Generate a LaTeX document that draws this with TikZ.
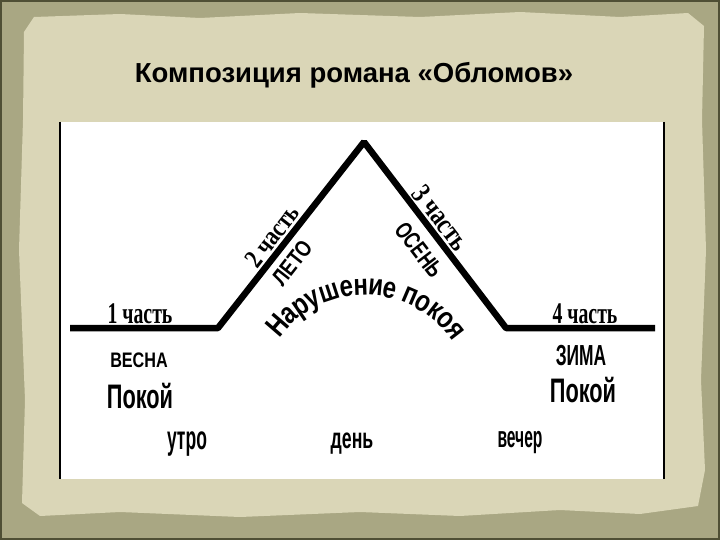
\documentclass[tikz,border=0pt]{standalone}
\usepackage{fontspec}
\setmainfont{Liberation Sans}
\newfontfamily\serifnarrow{Liberation Serif}
\definecolor{framecol}{HTML}{A9A783}
\definecolor{edgecol}{HTML}{4F4F35}
\definecolor{parch}{HTML}{DAD6B7}
\newcommand{\fs}[1]{\fontsize{#1}{#1}\selectfont}
\begin{document}
\begin{tikzpicture}[x=1pt,y=-1pt,
  lab/.style={inner sep=0pt, outer sep=0pt, text=black},
  part/.style={lab, font=\serifnarrow\bfseries},
  word/.style={lab, font=\bfseries},
  curve/.style={line width=6.5pt, line join=bevel, line cap=butt}]
\useasboundingbox (0,0) rectangle (720,540);
% background frame
\fill[framecol] (0,0) rectangle (720,540);
\draw[edgecol, line width=4pt] (0,0) rectangle (720,540);
\fill[parch] (24,32) -- (34,17) -- (120,14) -- (200,18) -- (300,13) -- (420,17) -- (520,12) -- (620,17) -- (688,13) -- (704,26)
  -- (702,120) -- (706,250) -- (701,380) -- (705,470) -- (698,506) -- (640,514) -- (560,510) -- (460,516) -- (360,512)
  -- (240,517) -- (120,512) -- (40,516) -- (22,503) -- (25,400) -- (19,250) -- (23,120) -- cycle;
% title
\node[lab, font=\bfseries\fs{27.5}, anchor=base] (title) at (354,83) {Композиция романа «Обломов»};
% white panel
\fill[white] (60,122) rectangle (664,479);
\draw[black, line width=1.3pt] (60,122) -- (60,479);
\draw[black, line width=1.3pt] (664,122) -- (664,479);
% plot line
\coordinate (L0) at (70,328);
\coordinate (L1) at (218,328);
\coordinate (P) at (364,142);
\coordinate (R1) at (506,328);
\coordinate (R0) at (655,328);
\draw[curve] (L0) -- (L1) -- (P) -- (R1) -- (R0);
% left part
\node[part, anchor=base] (p1) at (140,323) {\fs{30}\scalebox{0.66}[1]{1 часть}};
\node[word, anchor=base] (vesna) at (139,367) {\fs{21}\scalebox{0.77}[1]{ВЕСНА}};
\node[word, anchor=base] (pokoj1) at (140,408) {\fs{34}\scalebox{0.64}[1]{Покой}};
\node[word, anchor=base] (utro) at (187,449) {\fs{33}\scalebox{0.53}[1]{утро}};
% middle
\node[word, anchor=base] (den) at (352,448) {\fs{29}\scalebox{0.61}[1]{день}};
% right part
\node[part, anchor=base] (p4) at (585,323) {\fs{30}\scalebox{0.66}[1]{4 часть}};
\node[word, anchor=base] (zima) at (581,365) {\fs{29}\scalebox{0.6}[1]{ЗИМА}};
\node[word, anchor=base] (pokoj4) at (583,402) {\fs{34}\scalebox{0.64}[1]{Покой}};
\node[word, anchor=base] (vecher) at (520,447) {\fs{30}\scalebox{0.52}[1]{вечер}};
% slope labels
\node[part, rotate=52] (p2) at (272,236) {\fs{27}\scalebox{0.8}[1]{2 часть}};
\node[word, rotate=52] (leto) at (292,263) {\fs{23}\scalebox{0.8}[1]{ЛЕТО}};
\node[part, rotate=-52.5] (p3) at (441,218) {\fs{29}\scalebox{0.78}[1]{3 часть}};
\node[word, rotate=-52.5] (osen) at (419,250) {\fs{24}\scalebox{0.72}[1]{ОСЕНЬ}};
% arched text
\coordinate (C) at (365,401);
\foreach \l/\a [count=\i] in {Н/-49.2, а/-41.4, р/-34.2, у/-27, ш/-18.1, е/-9.3, н/-2.1, и/5.4, е/12.6, п/23.2, о/30.7, к/37.9, о/45.1, я/52.2}{
  \path (C) ++(\a-90:106) node[word, anchor=base, rotate=-\a] (arc\i) {\fs{30}\scalebox{0.8}[1]{\l}};
}
\end{tikzpicture}
\end{document}
